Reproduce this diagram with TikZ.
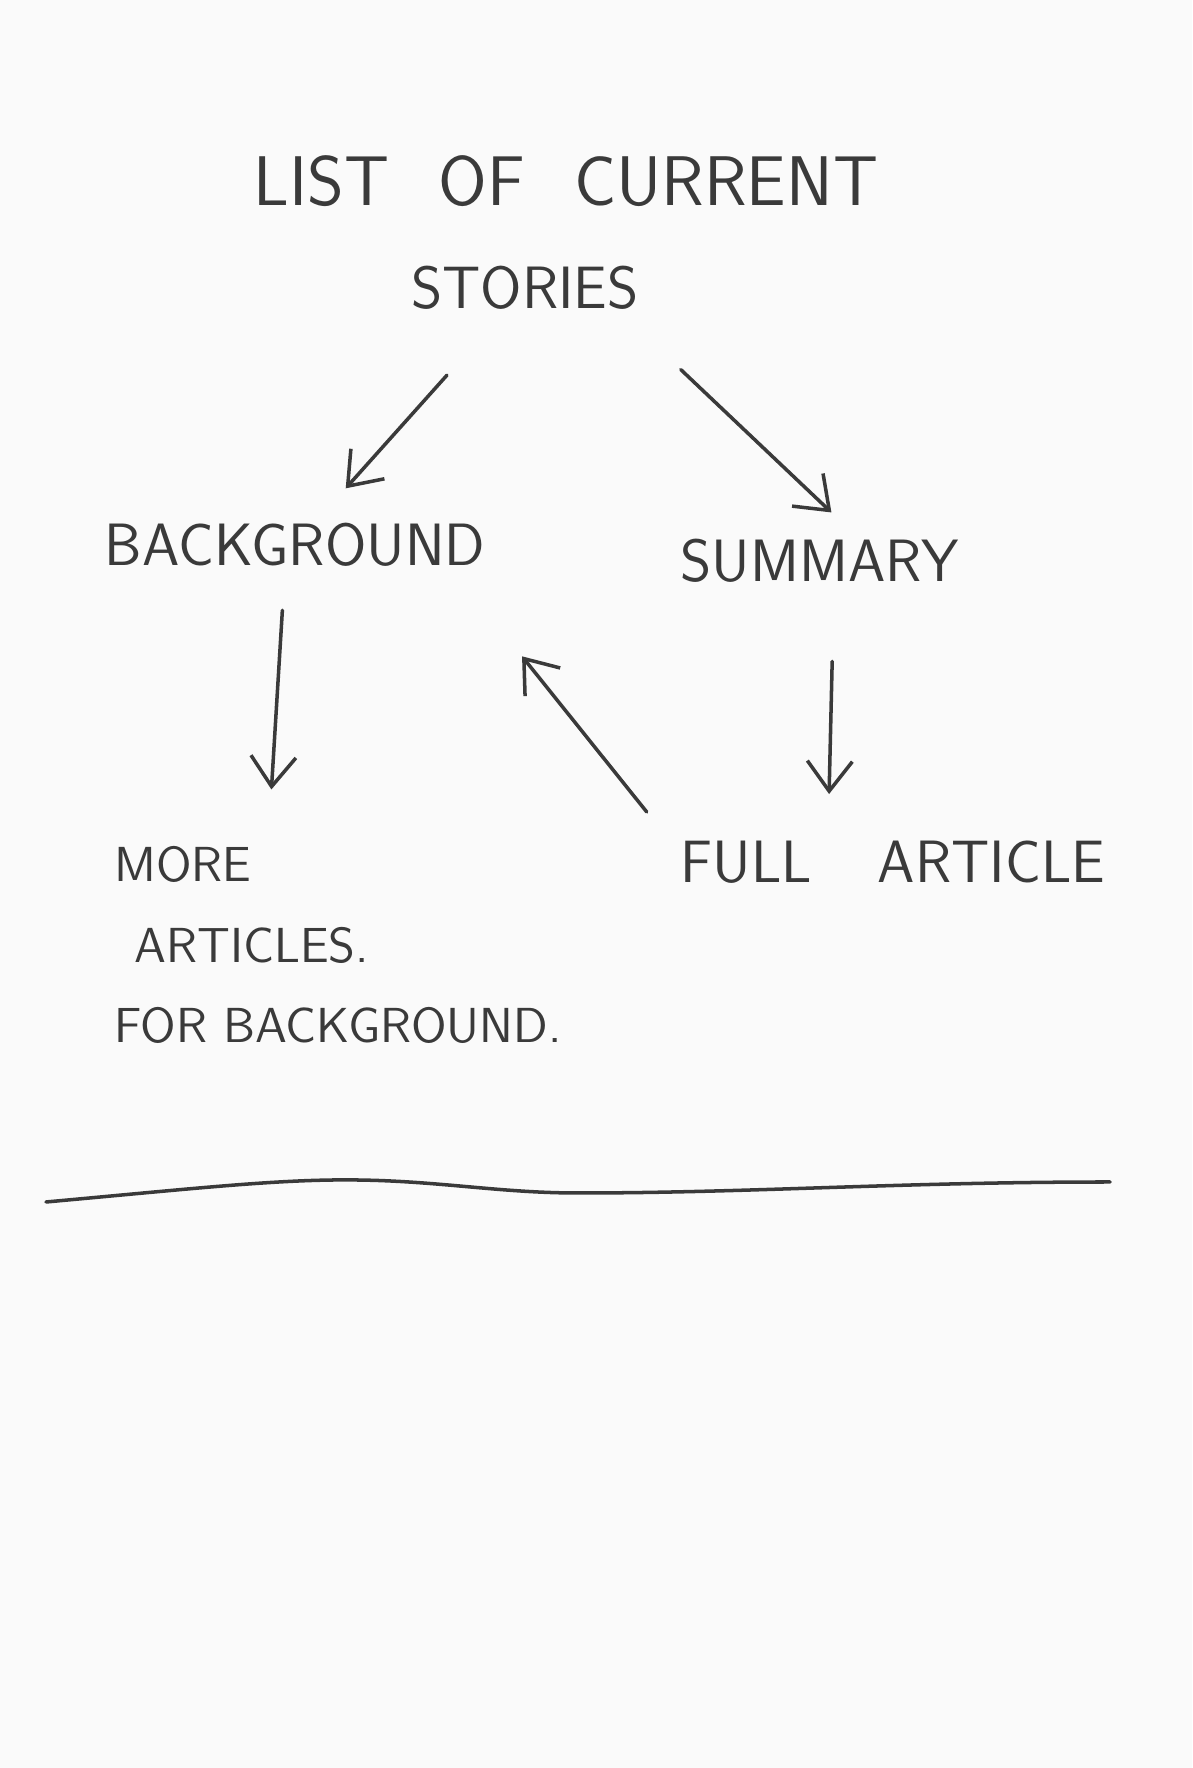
\documentclass[tikz,border=0pt]{standalone}
\usepackage{tikz}
\usetikzlibrary{positioning,arrows.meta}
\definecolor{ink}{HTML}{3A3A3A}
\definecolor{paper}{HTML}{FAFAFA}

\begin{document}
\begin{tikzpicture}[x=1mm, y=1mm, on grid,
    hand/.style={inner sep=0pt, text=ink, font=\sffamily\fontsize{17}{20}\selectfont},
    title/.style={hand, font=\sffamily\fontsize{20}{24}\selectfont},
    note/.style={hand, align=left, font=\sffamily\fontsize{14}{23}\selectfont},
    pen/.style={draw=ink, line width=1pt, line cap=round},
    arr/.style={pen, -{Straight Barb[length=3mm,width=4.5mm]}}]

    % Paper
    \fill[paper] (0,0) rectangle (119.2,176.8);
    \useasboundingbox (0,0) rectangle (119.2,176.8);

    % Nodes
    \node[title] (list) at (56.6,158.7) {LIST\hspace{0.7em}OF\hspace{0.7em}CURRENT}; % heading
    \node[hand, below left=10.7mm and 4.1mm of list] (stories) {STORIES}; % heading, second line
    \node[hand, below left=25.7mm and 23mm of stories] (background) {BACKGROUND}; % left branch
    \node[hand, below right=27.3mm and 29.5mm of stories] (summary) {SUMMARY}; % right branch
    \node[hand, below right=30.1mm and 7.3mm of summary] (full) {FULL\hspace{1.1em}ARTICLE}; % after summary
    \node[note, below right=40mm and 4.3mm of background] (more) {MORE\\\hspace*{2mm}ARTICLES.\\FOR BACKGROUND.}; % after background

    % Edges
    \draw[arr, shorten <=8.7mm, shorten >=4.6mm] (stories) -- (background); % stories to background
    \draw[arr, shorten <=8.6mm, shorten >=3.8mm] ([xshift=-2.1mm]stories.south east) -- ([xshift=3.9mm]summary.north); % stories to summary
    \draw[arr, shorten <=4.3mm, shorten >=5.6mm] ([xshift=-1mm]background.south) -- ([xshift=-7mm]more.north); % background to more articles
    \draw[arr, shorten <=7.8mm, shorten >=4.6mm] ([xshift=1.4mm]summary.south) -- ([xshift=-6.5mm]full.north); % summary to full article
    \draw[arr, shorten <=3.6mm, shorten >=11.4mm] ([xshift=-1.1mm]full.north west) -- ([xshift=-3.5mm]background.south east); % full article back to background

    % Rule
    \coordinate (ruleL) at (4.6,56.6);
    \coordinate (ruleR) at (111,58.6);
    \draw[pen] (ruleL) .. controls (20,58) and (28,58.9) .. (35.7,58.8) .. controls (44,58.7) and (50,57.5) .. (57.8,57.5) .. controls (75,57.5) and (90,58.6) .. (ruleR);

\end{tikzpicture}
\end{document}
